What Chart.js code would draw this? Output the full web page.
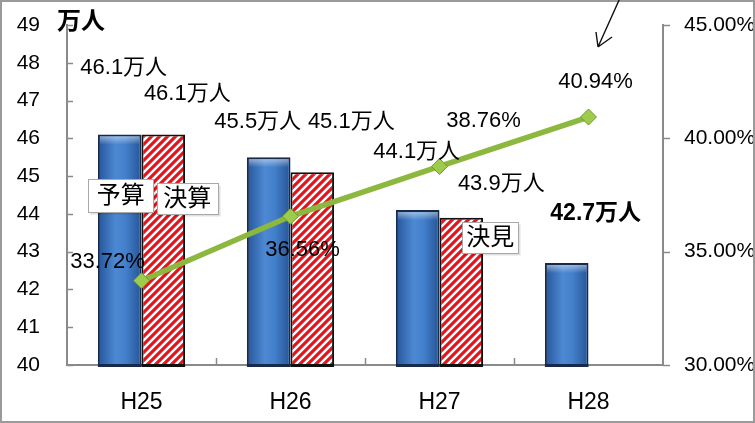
<!DOCTYPE html>
<html>
<head>
<meta charset="utf-8">
<script src="https://cdn.jsdelivr.net/npm/chart.js"></script>
<style>
body{margin:0;background:#fff;}
#wrap{width:755px;height:423px;position:relative;}
</style>
</head>
<body>
<div id="wrap"><canvas id="rateChart"></canvas></div>
<script>
var years = ['H25', 'H26', 'H27', 'H28'];
var budget = [46.1, 45.5, 44.1, 42.7];      // 予算 (万人)
var settlement = [46.1, 45.1, 43.9, null];  // 決算 (万人)
var rate = [33.72, 36.56, 38.76, 40.94];    // %
var peopleAxis = [40, 49, 1];   // min, max, step
var rateAxis = [30, 45, 5];

var FONT = '"Liberation Sans", Arial, "Noto Sans CJK JP", sans-serif';

// 値ラベルの位置 [dataset, index, dx, dy]
var labelPos = [
	[0, 0, 4, -67], [1, 0, 24, -41],
	[0, 1, -11, -35], [1, 1, 39, -50],
	[0, 2, -1, -58], [1, 2, 40, -34],
	[0, 3, 29, -49],
	[2, 0, -34, -19], [2, 1, 12, 34], [2, 2, 44, -46], [2, 3, 7, -35]
];
// 凡例ボックス [dataset, index, dx, dy, w, h, text]
var boxPos = [
	[0, 0, 1, 61, 65, 33, '予算'],
	[1, 0, 24, 64, 61, 31, '決算'],
	[1, 2, 29, 20, 56, 31, '決見']
];

function hatch(){
	var c = document.createElement('canvas');
	c.width = 8; c.height = 8;
	var g = c.getContext('2d');
	g.fillStyle = '#fff';
	g.fillRect(0, 0, 8, 8);
	g.strokeStyle = '#e3141b';
	g.lineWidth = 3.2;
	g.beginPath();
	g.moveTo(-2, 10); g.lineTo(10, -2);
	g.moveTo(-6, 6); g.lineTo(6, -6);
	g.moveTo(2, 14); g.lineTo(14, 2);
	g.stroke();
	return g.createPattern(c, 'repeat');
}

function fmtPeople(v){ return v.toFixed(1) + '万人'; }
function fmtRate(v){ return v.toFixed(2) + '%'; }

var decor = {
	id: 'decor',
	beforeDraw: function(c){
		var ctx = c.ctx;
		ctx.save();
		ctx.fillStyle = '#fff';
		ctx.fillRect(0, 0, c.width, c.height);
		ctx.restore();
	},
	// 棒の陰影と下端の線
	afterDatasetDraw: function(c, args){
		if (args.index > 1) return;
		var ctx = c.ctx, a = c.chartArea;
		args.meta.data.forEach(function(el, i){
			if (c.data.datasets[args.index].data[i] == null) return;
			var base = Math.min(el.base, a.bottom);
			var l = el.x - el.width / 2 + 2, t = el.y + 2;
			var w = el.width - 4, h = base - t;
			ctx.save();
			if (args.index === 0){
				var g = ctx.createLinearGradient(l, 0, l + w, 0);
				g.addColorStop(0, '#2a5ba0');
				g.addColorStop(0.4, '#4d89d3');
				g.addColorStop(0.65, '#4380cb');
				g.addColorStop(1, '#2a599c');
				ctx.fillStyle = g;
				ctx.fillRect(l, t, w, h);
				var v = ctx.createLinearGradient(0, t, 0, t + 8);
				v.addColorStop(0, 'rgba(255,255,255,0.45)');
				v.addColorStop(1, 'rgba(255,255,255,0)');
				ctx.fillStyle = v;
				ctx.fillRect(l, t, w, 8);
			}
			ctx.fillStyle = args.index === 0 ? '#172a4a' : '#111';
			ctx.fillRect(l - 2, base - 1, w + 4, 3);
			ctx.restore();
		});
	},
	afterDraw: function(c){
		var ctx = c.ctx, a = c.chartArea;
		var y = c.scales.y, y1 = c.scales.y1;
		ctx.save();
		ctx.strokeStyle = '#8a8a8a';
		ctx.lineWidth = 1.5;
		ctx.beginPath();
		for (var v = peopleAxis[0]; v <= peopleAxis[1]; v += peopleAxis[2]){
			var py = Math.round(y.getPixelForValue(v)) + 0.5;
			ctx.moveTo(a.left, py); ctx.lineTo(a.left + 6, py);
		}
		for (var r = rateAxis[0]; r <= rateAxis[1]; r += rateAxis[2]){
			var ry = Math.round(y1.getPixelForValue(r)) + 0.5;
			ctx.moveTo(a.right, ry); ctx.lineTo(a.right + 7, ry);
		}
		var step = (a.right - a.left) / years.length;
		for (var k = 1; k < years.length; k++){
			var px = Math.round(a.left + step * k) + 0.5;
			ctx.moveTo(px, a.bottom); ctx.lineTo(px, a.bottom - 7);
		}
		ctx.stroke();

		// 単位
		ctx.fillStyle = '#000';
		ctx.font = 'bold 24px ' + FONT;
		ctx.textAlign = 'left';
		ctx.textBaseline = 'middle';
		ctx.fillText('万人', 57, 22);

		// 値ラベル
		ctx.textAlign = 'center';
		labelPos.forEach(function(p){
			var el = c.getDatasetMeta(p[0]).data[p[1]];
			var val = c.data.datasets[p[0]].data[p[1]];
			var txt = p[0] === 2 ? fmtRate(val) : fmtPeople(val);
			ctx.font = (p[0] === 0 && p[1] === 3) ? 'bold 23px ' + FONT : '22px ' + FONT;
			ctx.fillText(txt, el.x + p[2], el.y + p[3]);
		});

		boxPos.forEach(function(b){
			var el = c.getDatasetMeta(b[0]).data[b[1]];
			var cx = el.x + b[2], cy = el.y + b[3];
			var bl = Math.round(cx - b[4] / 2) + 0.5, bt = Math.round(cy - b[5] / 2) + 0.5;
			ctx.fillStyle = 'rgba(0,0,0,0.12)';
			ctx.fillRect(bl + 2, bt + 2, b[4], b[5]);
			ctx.fillStyle = '#fff';
			ctx.fillRect(bl, bt, b[4], b[5]);
			ctx.strokeStyle = '#a8a8a8';
			ctx.lineWidth = 1;
			ctx.strokeRect(bl, bt, b[4], b[5]);
			ctx.fillStyle = '#000';
			ctx.font = '24px ' + FONT;
			ctx.fillText(b[6], cx, cy + 1);
		});

		// 外枠
		ctx.strokeStyle = '#9a9a9a';
		ctx.lineWidth = 2;
		ctx.strokeRect(1, 1, c.width - 2, c.height - 2);

		// 手書きの矢印
		ctx.strokeStyle = '#111';
		ctx.lineWidth = 1.4;
		ctx.beginPath();
		ctx.moveTo(620, -2); ctx.lineTo(598, 47);
		ctx.moveTo(598, 47); ctx.lineTo(596, 32);
		ctx.moveTo(598, 47); ctx.lineTo(612, 37);
		ctx.stroke();
		ctx.restore();
	}
};

var rateChart = new Chart(document.getElementById('rateChart'), {
	type: 'bar',
	data: {
		labels: years,
		datasets: [{
			label: '予算',
			data: budget,
			backgroundColor: '#3f7cc8',
			borderColor: '#172a4a',
			borderWidth: 2,
			borderSkipped: false,
			yAxisID: 'y',
			order: 1
		}, {
			label: '決算',
			data: settlement,
			backgroundColor: hatch(),
			borderColor: '#111',
			borderWidth: 2,
			borderSkipped: false,
			yAxisID: 'y',
			order: 1
		}, {
			type: 'line',
			label: '割合',
			data: rate,
			borderColor: '#8db83f',
			borderWidth: 5.5,
			pointStyle: 'rectRot',
			pointRadius: 8,
			pointBackgroundColor: '#9fcb4c',
			pointBorderColor: '#6f9a2d',
			pointBorderWidth: 1,
			yAxisID: 'y1',
			order: 0
		}]
	},
	options: {
		responsive: true,
		maintainAspectRatio: false,
		animation: false,
		categoryPercentage: 0.585,
		barPercentage: 1,
		layout: { padding: { top: 25, left: 0, right: 0, bottom: 0 } },
		plugins: { legend: { display: false }, tooltip: { enabled: false } },
		scales: {
			x: {
				grid: { display: false, drawTicks: false },
				border: { display: true, color: '#8a8a8a', width: 2 },
				ticks: { color: '#000', font: { size: 23, family: FONT }, padding: 24 },
				afterFit: function(s){ s.height = 58; }
			},
			y: {
				position: 'left',
				min: peopleAxis[0], max: peopleAxis[1],
				// 目盛り線は自前で描くので、tickLength は文字の位置取りだけに使う
				grid: { display: false, drawTicks: true, tickLength: 27 },
				border: { display: true, color: '#8a8a8a', width: 2 },
				ticks: { stepSize: peopleAxis[2], color: '#000', font: { size: 21, family: FONT }, padding: 0 },
				afterFit: function(s){ s.width = 67; }
			},
			y1: {
				position: 'right',
				min: rateAxis[0], max: rateAxis[1],
				grid: { display: false, drawTicks: true, tickLength: 21 },
				border: { display: true, color: '#8a8a8a', width: 2 },
				ticks: { stepSize: rateAxis[2], color: '#000', font: { size: 21, family: FONT }, padding: 0,
					callback: function(v){ return fmtRate(v); } },
				afterFit: function(s){ s.width = 92; }
			}
		}
	},
	plugins: [decor]
});
</script>
</body>
</html>
